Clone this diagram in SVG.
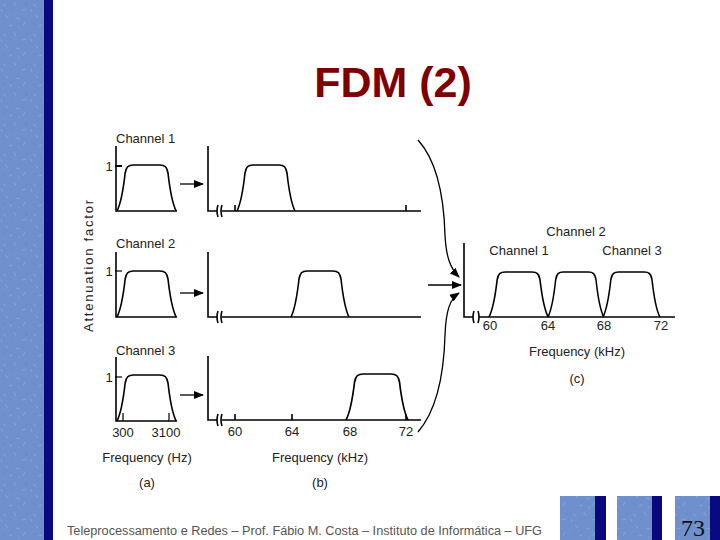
<svg xmlns="http://www.w3.org/2000/svg" width="720" height="540" viewBox="0 0 720 540">
<style>
.lbl{font-family:"Liberation Sans",Arial,sans-serif;font-size:13px;fill:#222}
.ax{fill:none;stroke:#000;stroke-width:1.6}
.bd{fill:none;stroke:#000;stroke-width:1.6;stroke-linejoin:round}
.con{fill:none;stroke:#000;stroke-width:1.3}
.dk{fill:#0a0a80}
</style>
<defs>
<pattern id="tex" width="30" height="30" patternUnits="userSpaceOnUse">
<rect width="30" height="30" fill="#6f90cd"/>
<path d="M3,4 l3,2 M14,2 l2,4 M22,10 l4,-1 M5,15 l3,3 M16,18 l4,1 M25,22 l-2,4 M9,26 l3,-1 M1,9 l1,3 M18,27 l2,1" stroke="#9fb7e4" stroke-width="1" opacity="0.5"/>
<path d="M10,9 l2,1 M26,3 l1,3 M12,21 l-1,2 M3,24 l2,0" stroke="#5a7cbd" stroke-width="1" opacity="0.5"/>
</pattern>
<path id="band" d="M0,0 C3,-6 6,-20 8,-38 C9,-44 11,-46 16,-46 L42,-46 C47,-46 49,-44 50,-38 C52,-20 55,-6 58,0"/>
<marker id="ah" markerWidth="10" markerHeight="8" refX="9" refY="4" orient="auto" markerUnits="userSpaceOnUse">
<path d="M0,0 L10,4 L0,8 Z" fill="#000"/>
</marker>
</defs>
<rect width="720" height="540" fill="#fff"/>
<g id="stripe">
<rect x="0" y="0" width="44" height="540" fill="url(#tex)"/>
<rect x="44" y="0" width="9" height="540" class="dk"/>
</g>
<text x="393" y="97" text-anchor="middle" font-family="Liberation Sans,Arial,sans-serif" font-weight="bold" font-size="43" fill="#800000">FDM (2)</text>
<text transform="translate(93,266) rotate(-90)" class="lbl" text-anchor="middle" textLength="132" lengthAdjust="spacing">Attenuation factor</text>
<g id="panel-a1">
<text x="116" y="143" class="lbl">Channel 1</text>
<path class="ax" d="M116,146 V211 H177"/>
<path d="M115,166 H122" stroke="#000" stroke-width="2"/>
<text x="109" y="171" class="lbl" text-anchor="middle" font-size="12">1</text>
<use href="#band" class="bd" transform="translate(117,211) scale(1.02,1)"/>
</g>
<g id="panel-a2">
<text x="116" y="248" class="lbl">Channel 2</text>
<path class="ax" d="M116,252 V317 H177"/>
<path d="M115,271 H122" stroke="#000" stroke-width="1.2"/>
<text x="109" y="276" class="lbl" text-anchor="middle" font-size="12">1</text>
<use href="#band" class="bd" transform="translate(117,317) scale(1.02,1)"/>
</g>
<g id="panel-a3">
<text x="116" y="355" class="lbl">Channel 3</text>
<path class="ax" d="M116,357 V421 H177"/>
<path d="M115,377 H122" stroke="#000" stroke-width="1.2"/>
<path d="M123,413 V421 M169,413 V421" stroke="#000" stroke-width="1.2"/>
<text x="109" y="382" class="lbl" text-anchor="middle" font-size="12">1</text>
<use href="#band" class="bd" transform="translate(117,421) scale(1.02,1)"/>
<text x="123" y="437" class="lbl" text-anchor="middle">300</text>
<text x="166" y="437" class="lbl" text-anchor="middle">3100</text>
<text x="147" y="462" class="lbl" text-anchor="middle">Frequency (Hz)</text>
<text x="147" y="487" class="lbl" text-anchor="middle">(a)</text>
</g>
<g id="panel-b1">
<path class="ax" d="M208,146 V211 H217 M222,211 H421"/>
<path class="ax" d="M218,205 q-2,6 0,12 M222,205 q-2,6 0,12 M235,205 V211 M406,205 V211"/>
<use href="#band" class="bd" transform="translate(237,211)"/>
</g>
<g id="panel-b2">
<path class="ax" d="M208,252 V317 H217 M222,317 H421"/>
<path class="ax" d="M218,311 q-2,6 0,12 M222,311 q-2,6 0,12"/>
<use href="#band" class="bd" transform="translate(291,317)"/>
</g>
<g id="panel-b3">
<path class="ax" d="M208,356 V420 H217 M222,420 H421"/>
<path class="ax" d="M218,414 q-2,6 0,12 M222,414 q-2,6 0,12 M235,414 V420 M292,414 V420 M406,414 V420"/>
<use href="#band" class="bd" transform="translate(346,420) scale(1.07,1.0)"/>
<text x="235" y="436" class="lbl" text-anchor="middle">60</text>
<text x="292" y="436" class="lbl" text-anchor="middle">64</text>
<text x="350" y="436" class="lbl" text-anchor="middle">68</text>
<text x="406" y="436" class="lbl" text-anchor="middle">72</text>
<text x="320" y="462" class="lbl" text-anchor="middle">Frequency (kHz)</text>
<text x="320" y="487" class="lbl" text-anchor="middle">(b)</text>
</g>
<g id="panel-c">
<text x="576" y="236" class="lbl" text-anchor="middle">Channel 2</text>
<text x="519" y="255" class="lbl" text-anchor="middle">Channel 1</text>
<text x="632" y="255" class="lbl" text-anchor="middle">Channel 3</text>
<path class="ax" d="M464,243 V317 H473 M479,317 H675"/>
<path class="ax" d="M474,311 q-2,6 0,12 M478,311 q2,6 0,12"/>
<use href="#band" class="bd" transform="translate(489,317) scale(1.02,0.98)"/>
<use href="#band" class="bd" transform="translate(548,317) scale(0.96,0.98)"/>
<use href="#band" class="bd" transform="translate(603,317) scale(0.98,0.98)"/>
<text x="490" y="330" class="lbl" text-anchor="middle">60</text>
<text x="548" y="330" class="lbl" text-anchor="middle">64</text>
<text x="604" y="330" class="lbl" text-anchor="middle">68</text>
<text x="661" y="330" class="lbl" text-anchor="middle">72</text>
<text x="577" y="356" class="lbl" text-anchor="middle">Frequency (kHz)</text>
<text x="577" y="383" class="lbl" text-anchor="middle">(c)</text>
</g>
<g id="connectors">
<line x1="180" y1="184" x2="203" y2="184" class="con" stroke-width="2" marker-end="url(#ah)"/>
<line x1="180" y1="293" x2="203" y2="293" class="con" stroke-width="2" marker-end="url(#ah)"/>
<line x1="180" y1="395" x2="203" y2="395" class="con" stroke-width="2" marker-end="url(#ah)"/>
<path class="con" d="M418,140 C438,162 444,200 445,235 C446,256 450,268 459,277" marker-end="url(#ah)"/>
<line x1="428" y1="285" x2="461" y2="285" class="con" stroke-width="2" marker-end="url(#ah)"/>
<path class="con" d="M418,432 C437,410 444,372 445,335 C446,310 450,299 459,293" marker-end="url(#ah)"/>
</g>
<g id="footer">
<text x="67" y="535" font-family="Liberation Sans,Arial,sans-serif" font-size="12" fill="#555" textLength="475" lengthAdjust="spacingAndGlyphs">Teleprocessamento e Redes – Prof. Fábio M. Costa – Instituto de Informática – UFG</text>
<rect x="560" y="496" width="36" height="44" fill="url(#tex)"/>
<rect x="595" y="496" width="11" height="44" class="dk"/>
<rect x="617" y="496" width="36" height="44" fill="url(#tex)"/>
<rect x="652" y="496" width="10" height="44" class="dk"/>
<rect x="675" y="496" width="36" height="44" fill="url(#tex)"/>
<rect x="710" y="496" width="10" height="44" class="dk"/>
<text x="693" y="536" text-anchor="middle" font-family="Liberation Serif,Times New Roman,serif" font-size="24" fill="#111">73</text>
</g>
</svg>
